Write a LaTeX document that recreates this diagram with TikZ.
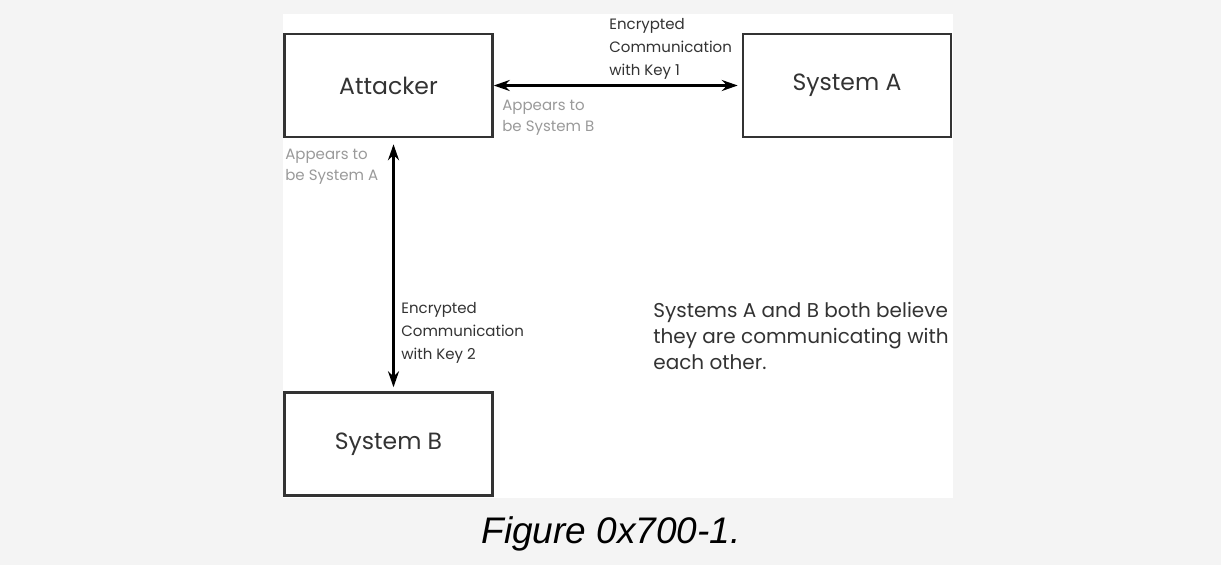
\documentclass[tikz,border=0pt]{standalone}
\usepackage{fontspec}
\setmainfont{Poppins}
\newfontfamily\capfont{Liberation Sans}
\usepackage{tikz}
\usetikzlibrary{arrows.meta,positioning}
\definecolor{pagegray}{HTML}{F4F4F4}
\definecolor{inkgray}{HTML}{333333}
\definecolor{hintgray}{HTML}{9A9A9A}

\begin{document}
\begin{tikzpicture}[x=1pt,y=-1pt,<->,>={Stealth[length=16pt,width=11pt]},
		shorten >=4pt,node distance=248pt,line width=2.7pt]
		\tikzstyle{system}=[draw=inkgray,line width=2.5pt,minimum width=208pt,
			minimum height=103pt,text=inkgray,font=\fontsize{23.5}{28}\selectfont]
		\tikzstyle{note}=[inner sep=0pt,anchor=north west,align=left,text=inkgray,
			font=\fontsize{15}{23}\selectfont]
		\tikzstyle{hint}=[note,text=hintgray,font=\fontsize{15}{21}\selectfont]
		
		\fill[pagegray] (0,0) rectangle (1221,565);
		\fill[white] (283,14) rectangle (953,498);
		\useasboundingbox (0,0) rectangle (1221,565);
		
		\node[system] (att) at (388.5,85.5) {Attacker};
		\node[system] (sysa) [right=of att] {System A};
		\node[system] (sysb) [below=253pt of att] {System B};
		
		\node[note] (key1) at (608,17) {Encrypted\\Communication\\with Key 1};
		\node[note] (key2) at (400,301) {Encrypted\\Communication\\with Key 2};
		\node[hint] (seemb) at (501,99) {Appears to\\be System B};
		\node[hint] (seema) at (284,148) {Appears to\\be System A};
		\node[note,font=\fontsize{20}{26}\selectfont] (belief) at (652,301)
			{Systems A and B both believe\\they are communicating with\\each other.};
		
		\draw[black] (att.east) -- (sysa.west);
		\draw[black,shorten <=6pt] ([xshift=5pt]att.south) -- ([xshift=5pt]sysb.north);
		
		\node[anchor=base,font=\capfont\itshape\fontsize{37}{44}\selectfont] (caption)
			at (611,543) {Figure 0x700-1.};
\end{tikzpicture}
\end{document}
